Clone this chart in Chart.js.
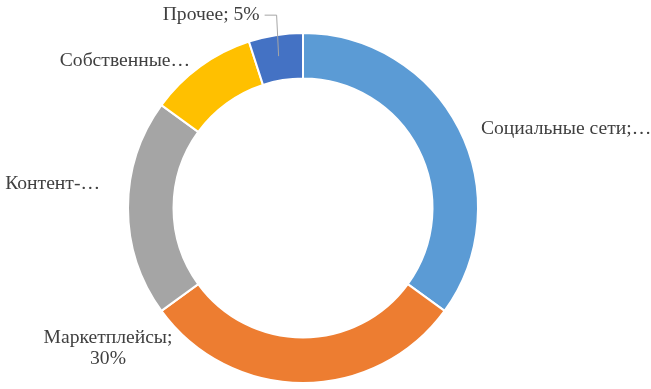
<!DOCTYPE html>
<html><head><meta charset="utf-8">
<script src="https://cdn.jsdelivr.net/npm/chart.js@4/dist/chart.umd.min.js"></script>
<style>html,body{margin:0;padding:0;background:#fff}#w{width:651px;height:389px}</style>
</head><body><div id="w"><canvas id="c"></canvas></div>
<script>
const categories = ["Социальные сети", "Маркетплейсы", "Контент-площадки", "Собственные сайты", "Прочее"];
const values = [35, 30, 20, 10, 5];
const colors = ["#5B9BD5", "#ED7D31", "#A5A5A5", "#FFC000", "#4472C4"];
const labelTexts = [["Социальные сети;…"], ["Маркетплейсы;", "30%"], ["Контент-…"], ["Собственные…"], ["Прочее; 5%"]];
// label placement relative to the arc's outer midpoint: dx, dy, alignment
const labelOffsets = [[22, 0, "left"], [-195, -45, "center"], [-28, -24, "right"], [-10, -6, "right"], [-16, -20, "right"]];

const labelPlugin = {
  id: "sliceLabels",
  afterDatasetsDraw(chart) {
    const ctx = chart.ctx;
    const meta = chart.getDatasetMeta(0);
    ctx.save();
    ctx.font = "19.6px 'Liberation Serif', 'Times New Roman', serif";
    ctx.fillStyle = "#404040";
    ctx.textBaseline = "middle";
    meta.data.forEach((arc, i) => {
      const p = arc.getProps(["x", "y", "startAngle", "endAngle", "outerRadius"], true);
      const mid = (p.startAngle + p.endAngle) / 2;
      const ox = p.x + Math.cos(mid) * p.outerRadius;
      const oy = p.y + Math.sin(mid) * p.outerRadius;
      const [dx, dy, align] = labelOffsets[i];
      const lx = ox + dx, ly = oy + dy;
      ctx.textAlign = align;
      labelTexts[i].forEach((t, k) => ctx.fillText(t, lx, ly + k * 21));
      if (i === 4) {
        // leader line
        ctx.strokeStyle = "#A6A6A6";
        ctx.lineWidth = 1;
        ctx.beginPath();
        ctx.moveTo(lx + 5, ly);
        ctx.lineTo(lx + 17, ly);
        ctx.lineTo(ox + 3, oy + 21);
        ctx.stroke();
      }
    });
    ctx.restore();
  }
};

new Chart(document.getElementById("c"), {
  type: "doughnut",
  data: { labels: categories, datasets: [{ data: values, backgroundColor: colors, borderColor: "#ffffff", borderWidth: 2 }] },
  options: {
    responsive: true, maintainAspectRatio: false, animation: false,
    cutout: "74%",
    layout: { padding: { top: 32, bottom: 5, left: 0, right: 45 } },
    plugins: { legend: { display: false }, tooltip: { enabled: false } }
  },
  plugins: [labelPlugin]
});
</script></body></html>
